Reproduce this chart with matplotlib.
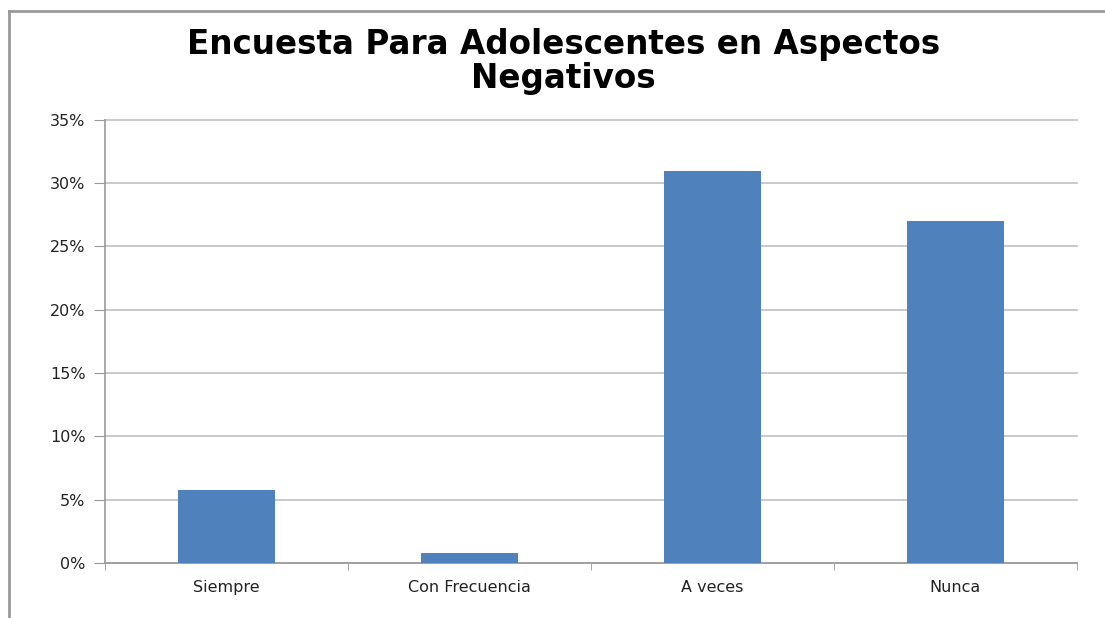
import matplotlib.pyplot as plt
from matplotlib.lines import Line2D
from matplotlib.ticker import FuncFormatter

categorias = ['Siempre', 'Con Frecuencia', 'A veces', 'Nunca']
porcentajes = [5.8, 0.8, 31.0, 27.0]
ticks_y = [0, 5, 10, 15, 20, 25, 30, 35]

fig = plt.figure(figsize=(11.05, 6.18), dpi=100)
ax = fig.add_axes([0.095, 0.089, 0.8795, 0.717])

x = range(len(categorias))
ax.bar(x, porcentajes, width=0.4, color='#4F81BD', zorder=3)

ax.set_xlim(-0.5, len(categorias) - 0.5)
ax.set_ylim(0, 35)
ax.set_yticks(ticks_y)
ax.yaxis.set_major_formatter(FuncFormatter(lambda v, p: f'{v:.0f}%'))
ax.yaxis.grid(True, color='#c0c0c0', linewidth=1.2, zorder=0)
for g in ax.get_ygridlines():
    g.set_clip_on(False)

ax.set_xticks(list(x))
ax.set_xticklabels(categorias)
ax.set_xticks([i - 0.5 for i in range(len(categorias) + 1)], minor=True)
ax.tick_params(axis='x', which='major', length=0, pad=12, labelsize=11.5, colors='#222222')
ax.tick_params(axis='x', which='minor', length=5, color='#999999')
ax.tick_params(axis='y', length=8, color='#999999', labelsize=11.5, labelcolor='#222222', pad=6)

for s in ['top', 'right']:
    ax.spines[s].set_visible(False)
for s in ['left', 'bottom']:
    ax.spines[s].set_color('#999999')
    ax.spines[s].set_linewidth(1.2)

fig.text(0.51, 0.9, 'Encuesta Para Adolescentes en Aspectos\nNegativos',
         ha='center', va='center', fontsize=23.5, fontweight='bold', linespacing=1.05)

# marco del grafico
fig.add_artist(Line2D([9 / 1105, 9 / 1105], [0, 1 - 11 / 618], color='#999999', lw=2))
fig.add_artist(Line2D([9 / 1105, 1], [1 - 11 / 618, 1 - 11 / 618], color='#999999', lw=2))

plt.savefig('out.png', dpi=100)
